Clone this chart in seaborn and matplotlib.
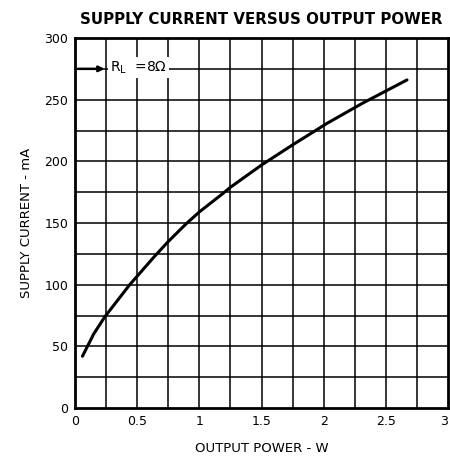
import numpy as np
import pandas as pd
import seaborn as sns
import matplotlib.pyplot as plt

# values (R_L = 8 ohm)
output_power = [0.06, 0.15, 0.24, 0.44, 0.64, 0.75, 0.89, 1.0, 1.19, 1.25, 1.5, 1.76, 2.03, 2.31, 2.67]
supply_current = [42, 60, 74, 100, 123, 135, 149, 159, 174, 179, 197, 214, 231, 247, 266]

x_ticks = [0, 0.5, 1, 1.5, 2, 2.5, 3]
x_tick_labels = ["0", "0.5", "1", "1.5", "2", "2.5", "3"]
y_ticks = [0, 50, 100, 150, 200, 250, 300]

df = pd.DataFrame({"power": output_power, "current": supply_current})

sns.set_style("white")
plt.rcParams["font.family"] = ["DejaVu Sans"]
plt.rcParams["text.color"] = "black"
plt.rcParams["axes.labelcolor"] = "black"
plt.rcParams["xtick.color"] = "black"
plt.rcParams["ytick.color"] = "black"

fig = plt.figure(figsize=(4.5, 4.67), dpi=100)
ax = fig.add_axes([0.1667, 0.1263, 0.8289, 0.7923])

sns.lineplot(data=df, x="power", y="current", ax=ax, color="black", linewidth=2.2)

ax.set_xlim(0, 3)
ax.set_ylim(0, 300)

# grid every 0.25 W and 25 mA
for gx in np.arange(0.25, 3, 0.25):
    ax.axvline(gx, color="black", linewidth=1.1, zorder=0)
for gy in np.arange(25, 300, 25):
    ax.axhline(gy, color="black", linewidth=1.1, zorder=0)

ax.set_xticks(x_ticks)
ax.set_xticklabels(x_tick_labels)
ax.set_yticks(y_ticks)
ax.tick_params(length=0, labelsize=9, pad=5)
ax.get_xticklabels()[-1].set_ha("right")

for s in ax.spines.values():
    s.set_visible(True)
    s.set_color("black")
    s.set_linewidth(2)

ax.set_xlabel("OUTPUT POWER - W", fontsize=9.5, labelpad=10)
ax.set_ylabel("SUPPLY CURRENT - mA", fontsize=9.5, labelpad=8)
ax.set_title("SUPPLY CURRENT VERSUS OUTPUT POWER", fontsize=10.8, fontweight="bold", pad=10)

# load annotation
ax.annotate("", xy=(0.26, 275), xytext=(0, 275),
            arrowprops=dict(arrowstyle="-|>", color="black", lw=1.8, mutation_scale=8))
ax.text(0.28, 276, r"$\mathregular{R_L}$  =8$\Omega$", fontsize=10, va="center", ha="left",
        bbox=dict(facecolor="white", edgecolor="none", pad=1.5))

fig.savefig("out.png", dpi=100)
